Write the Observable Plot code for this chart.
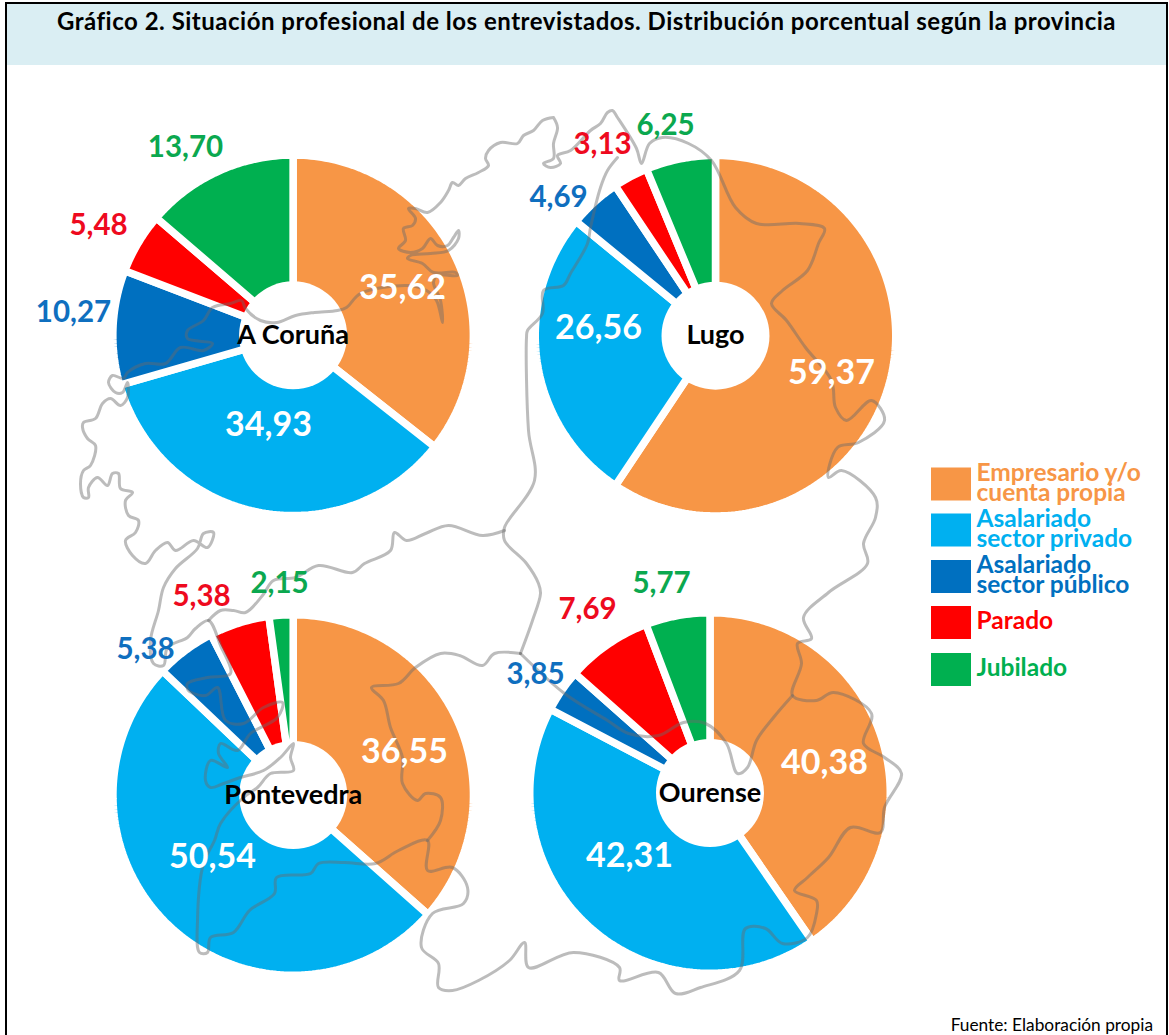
<!DOCTYPE html>
<html lang="es">
<head>
<meta charset="utf-8">
<script src="https://cdn.jsdelivr.net/npm/d3@7"></script>
<script src="https://cdn.jsdelivr.net/npm/@observablehq/plot@0.6"></script>
<style>
html,body{margin:0;padding:0;background:#fff;}
#page{position:relative;width:1169px;height:1035px;overflow:hidden;font-family:Lato,sans-serif;}
#frame{position:absolute;left:5px;top:2px;width:1163px;height:1033px;border:2px solid #000;border-bottom:none;box-sizing:border-box;pointer-events:none;z-index:3;}
#title{position:absolute;left:7px;top:4px;width:1159px;height:61px;background:#DAEEF3;box-sizing:border-box;text-align:center;font-weight:700;font-size:24px;letter-spacing:0.5px;line-height:33px;color:#000;white-space:nowrap;}
#chart{position:absolute;left:0;top:66px;}
#source{position:absolute;right:16px;top:1015px;font-family:Lato,sans-serif;font-size:17.3px;line-height:20px;color:#000;}
</style>
</head>
<body>
<div id="page">
  <div id="title">Gráfico 2. Situación profesional de los entrevistados. Distribución porcentual según la provincia</div>
  <div id="chart"></div>
  <div id="source">Fuente: Elaboración propia</div>
  <div id="frame"></div>
</div>
<script>
// ---- data ----
const categories = ["Empresario y/o cuenta propia","Asalariado sector privado","Asalariado sector público","Parado","Jubilado"];
const legendLabels = ["Empresario y/o\ncuenta propia","Asalariado\nsector privado","Asalariado\nsector público","Parado","Jubilado"];
const provinces = ["A Coruña","Lugo","Pontevedra","Ourense"];
const coruna     = [35.62,34.93,10.27,5.48,13.70];
const lugo       = [59.37,26.56,4.69,3.13,6.25];
const pontevedra = [36.55,50.54,5.38,5.38,2.15];
const ourense    = [40.38,42.31,3.85,7.69,5.77];
const seriesValues = [coruna,lugo,pontevedra,ourense];

// ---- styles and layout ----
const colors = ["#F79646","#00B0F0","#0070C0","#FF0000","#00B050"];
const textColors = ["#fff","#fff","#0F6FBF","#EE0A1E","#0BA84F"];
const textSizes = [34,34,29.5,29.5,29.5];
const legendTextColors = ["#F79646","#00B0F0","#0070C0","#FF0000","#00B050"];
const centers = [[292.6,334.8],[715,335.2],[292.7,794.5],[709.5,792.5]];
const outerR = 176.5, holeR = 54, gap = 7.5;
const valueSpots = [
  [[402,288],[268,425],[73,312],[98,225],[185,147]],
  [[831,373],[598,328],[558,197],[602,144],[665,125]],
  [[404,752],[212,857],[145,649],[201,596],[279,583]],
  [[824,763],[629,856],[535,674],[587,609],[661,583]]
];
const legendCenters = [484,530,576.5,622.5,669.5];

// ---- map outline (background decoration) ----
const outlineCoast = [[553,117],[542,120],[533,130],[523,135],[517,143],[500,142],[488,150],[485,158],[488,165],[478,172],[465,178],[458,185],[452,182],[448,190],[440,202],[427,212],[415,208],[408,208],[415,218],[412,225],[403,228],[405,240],[398,248],[410,252],[422,248],[430,238],[437,245],[447,245],[453,237],[458,230],[458,238],[448,250],[430,253],[410,255],[407,258],[422,263],[433,272],[455,272],[457,275],[437,275],[433,282],[440,300],[442,322],[436,300],[426,290],[408,285],[360,293],[346,307],[337,310],[314,312],[295,315],[276,322],[260,320],[245,308],[241,300],[230,303],[212,307],[203,320],[187,330],[187,338],[212,343],[203,350],[180,347],[165,363],[145,363],[127,372],[123,378],[112,375],[108,382],[115,392],[122,392],[127,382],[127,397],[120,405],[110,398],[102,403],[95,418],[83,422],[82,427],[87,438],[95,445],[90,465],[83,470],[80,483],[83,497],[88,497],[88,487],[97,477],[107,485],[112,473],[118,473],[120,488],[132,492],[125,500],[128,515],[138,520],[135,532],[125,540],[132,555],[145,563],[155,550],[167,542],[175,550],[193,540],[207,547],[213,532],[203,533],[197,548],[175,568],[163,587],[158,610],[150,640],[153,663],[163,665],[167,647],[187,637],[195,628],[208,620],[220,645],[230,673],[207,677],[187,683],[188,690],[205,695],[217,687],[225,720],[243,723],[263,707],[282,702],[277,717],[250,733],[237,750],[220,743],[218,753],[227,767],[210,760],[205,780],[210,787],[223,783],[240,777],[263,770],[280,757],[293,743],[290,757],[293,770],[270,773],[257,787],[243,797],[220,823],[214,840],[203,863],[197,920],[199,952],[207,952],[210,937],[233,932],[249,910],[274,893],[276,877],[310,873],[318,863],[344,862],[375,863],[398,850],[427,840],[427,870],[452,867],[467,887],[463,903],[432,913],[421,947],[438,963],[438,987],[452,990],[478,980],[509,960],[524,942],[528,967],[573,952],[619,967],[619,980],[658,972],[675,993],[700,987],[739,970],[745,928],[765,928],[782,943],[807,937],[816,913],[816,900],[794,890],[807,877],[828,857],[850,827],[880,832],[884,807],[901,773],[884,757],[863,743],[871,713],[833,692],[816,700],[792,695],[801,663],[797,643],[811,638],[803,617],[828,592],[867,563],[863,543],[875,517],[875,497],[841,470],[828,477],[837,447],[858,442],[884,420],[871,400],[846,420],[835,407],[831,380],[805,347],[786,320],[771,303],[782,290],[807,270],[818,243],[824,228],[799,223],[756,223],[735,207],[711,160],[688,143],[662,137],[649,143],[641,163],[636,148],[617,117],[612,110],[607,112],[600,123],[590,130],[570,150],[557,155],[560,163],[550,167],[543,163],[553,158],[553,143],[557,127],[553,117]];
const outlineCoruñaLugo = [[617,157],[607,170],[600,187],[590,227],[587,243],[570,273],[563,285],[543,290],[542,313],[527,330],[526,337],[528,430],[534,480],[504,527],[504,540],[526,563],[538,583],[540,593],[532,620],[520,653]];
const outlineCoruñaPontevedra = [[504,530],[482,535],[448,525],[425,533],[406,540],[394,532],[390,550],[364,563],[352,572],[318,565],[295,577],[273,580],[262,595],[245,612],[233,610],[220,610],[208,620]];
const outlinePontevedraOurense = [[520,653],[494,653],[482,665],[459,655],[440,653],[415,667],[398,683],[371,687],[383,700],[390,727],[402,757],[402,783],[417,800],[425,793],[440,797],[440,820],[427,840]];
const outlineLugoOurense = [[520,653],[564,693],[607,720],[628,733],[658,735],[683,722],[705,723],[726,743],[737,773],[747,767],[756,740],[773,717],[792,695]];
const outlines = [outlineCoast,outlineCoruñaLugo,outlineCoruñaPontevedra,outlinePontevedraOurense,outlineLugoOurense];

// ---- tables built from the above ----
const pie = d3.pie().sort(null).value(d => d);
const wedgePoints = [];
const valueRows = [];
provinces.forEach((p,i) => {
  const [cx,cy] = centers[i];
  const R = outerR + gap/2;
  pie(seriesValues[i]).forEach((a,j) => {
    const id = p + "-" + j;
    wedgePoints.push({id, category:categories[j], px:cx, py:cy});
    const steps = Math.max(2, Math.ceil((a.endAngle-a.startAngle)/0.02));
    for (let k=0;k<=steps;k++){
      const t = a.startAngle + (a.endAngle-a.startAngle)*k/steps;
      wedgePoints.push({id, category:categories[j], px:cx+R*Math.sin(t), py:cy-R*Math.cos(t)});
    }
    const [lx,ly] = valueSpots[i][j];
    valueRows.push({px:lx, py:ly, text:seriesValues[i][j].toFixed(2).replace(".",","), color:textColors[j], big:textSizes[j]>30});
  });
});
const centerRows = provinces.map((p,i)=>({px:centers[i][0], py:centers[i][1], name:p}));
const outlinePoints = outlines.flatMap((o,i)=>o.map(([px,py])=>({px,py,part:i})));
const legendRows = categories.map((c,i)=>({category:c,label:legendLabels[i],py:legendCenters[i],color:legendTextColors[i]}));

// ---- plot ----
const chart = Plot.plot({
  width:1169, height:946,
  margin:0,
  style:{background:"transparent",fontFamily:"Lato,sans-serif"},
  x:{domain:[0,1169],range:[0,1169],axis:null},
  y:{domain:[66,1012],range:[0,946],axis:null},
  color:{domain:categories,range:colors},
  marks:[
    Plot.line(wedgePoints,{x:"px",y:"py",z:"id",fill:"category",stroke:"#fff",strokeWidth:gap,strokeLinejoin:"miter",curve:"linear-closed"}),
    Plot.dot(centerRows,{x:"px",y:"py",r:holeR,fill:"#fff",stroke:null}),
    Plot.line(outlinePoints,{x:"px",y:"py",z:"part",stroke:"#6a6a6a",strokeOpacity:0.45,strokeWidth:3,curve:"catmull-rom"}),
    Plot.text(valueRows.filter(d=>d.big),{x:"px",y:"py",text:"text",fill:"color",fontSize:textSizes[0],fontWeight:700,textAnchor:"middle"}),
    Plot.text(valueRows.filter(d=>!d.big),{x:"px",y:"py",text:"text",fill:"color",fontSize:textSizes[2],fontWeight:700,textAnchor:"middle"}),
    Plot.text(centerRows,{x:"px",y:"py",text:"name",fill:"#000",fontSize:27,fontWeight:700,textAnchor:"middle"}),
    Plot.rect(legendRows,{x1:()=>931,x2:()=>971,y1:d=>d.py-16.5,y2:d=>d.py+16.5,fill:"category"}),
    Plot.text(legendRows,{x:()=>976,y:"py",text:"label",fill:"color",fontSize:24.5,fontWeight:700,textAnchor:"start",lineHeight:0.82})
  ]
});
document.getElementById("chart").appendChild(chart);
</script>
</body>
</html>
